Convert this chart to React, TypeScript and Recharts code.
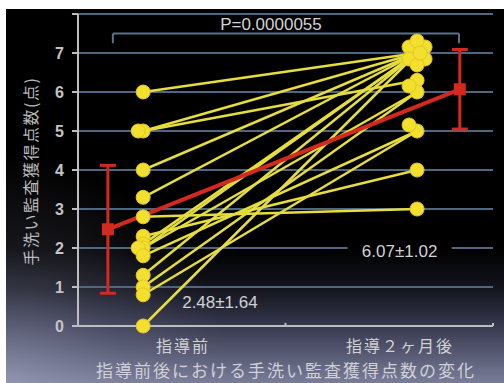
import React from "react";
import {
  ComposedChart,
  Scatter,
  XAxis,
  YAxis,
  CartesianGrid,
  ErrorBar,
  ReferenceLine,
  ReferenceDot,
} from "recharts";

// scores per participant, before guidance and two months after
const categories = ["指導前", "指導２ヶ月後"];
const before = [6, 5, 5, 4, 3.3, 2.8, 2.3, 2.1, 2, 2, 1.8, 1.3, 1, 0.8, 0];
const after = [7, 7, 6.3, 7, 7, 3, 4, 7, 6, 7, 5, 7, 6, 5, 7];
const means = [2.48, 6.07];
const sds = [1.64, 1.02];
const yTicks = [0, 1, 2, 3, 4, 5, 6, 7, 8];
const pLabel = "P=0.0000055";
const yTitle = "手洗い監査獲得点数(点)";
const xTitle = "指導前後における手洗い監査獲得点数の変化";

// horizontal layout on a 0..100 x scale
const X_BEFORE = 15.7;
const X_AFTER = 81.7;
const X_MEAN = [7.2, 92];
const X_CAT = [25.3, 77.6];

const YELLOW = "#f3df2e";
const YELLOW_LINE = "#e6dd3e";
const RED = "#d3291f";
const GRID = "#4d6880";
const AXIS = "#bdbdc2";
const TEXT = "#d2d2d4";
const NUM_FONT = '"Liberation Sans", Arial, sans-serif';
const JP_FONT = '"Noto Sans CJK JP", "Noto Sans", sans-serif';

const LEFT_FAN = [0, -5, 5, -3, 3];
const RIGHT_FAN = [
  [0, 0],
  [-8, -6],
  [8, -6],
  [0, -12],
  [-8, 6],
  [8, 6],
  [0, 12],
  [3, 0],
];

// identical scores are fanned out a little so each marker stays visible
function fan(values: number[], right: boolean) {
  const count: Record<string, number> = {};
  return values.map((v) => {
    const k = count[v] ?? 0;
    count[v] = k + 1;
    if (right) {
      const [dx, dy] = RIGHT_FAN[k % RIGHT_FAN.length];
      return { dx, dy };
    }
    return { dx: LEFT_FAN[k % LEFT_FAN.length], dy: 0 };
  });
}

const leftFan = fan(before, false);
const rightFan = fan(after, true);

const pairs = before.map((b, i) => [
  { x: X_BEFORE, y: b },
  { x: X_AFTER, y: after[i] },
]);

const dots = [
  ...before.map((y, i) => ({ x: X_BEFORE, y, ...leftFan[i] })),
  ...after.map((y, i) => ({ x: X_AFTER, y, ...rightFan[i] })),
];

const meanData = means.map((y, i) => ({ x: X_MEAN[i], y, sd: sds[i] }));

const noShape = () => <g />;

const DotShape = (p: any) => (
  <circle
    cx={p.cx + (p.payload?.dx ?? 0)}
    cy={p.cy + (p.payload?.dy ?? 0)}
    r={7}
    fill={YELLOW}
    stroke="#e2c724"
    strokeWidth={1}
  />
);

const SquareShape = (p: any) => (
  <rect x={p.cx - 6} y={p.cy - 6} width={12} height={12} fill={RED} />
);

const CategoryTick = (p: any) => {
  const idx = X_CAT.indexOf(p.payload.value);
  return (
    <text
      x={p.x}
      y={p.y + 18}
      textAnchor="middle"
      fill={TEXT}
      fontSize={16}
      letterSpacing={2}
      fontFamily={JP_FONT}
    >
      {categories[idx]}
    </text>
  );
};

const YTitle = () => (
  <text
    x={30}
    y={171}
    transform="rotate(-90 30 171)"
    textAnchor="middle"
    dominantBaseline="central"
    fill="#b9b9bb"
    fontSize={16}
    letterSpacing={1.5}
    fontFamily={JP_FONT}
  >
    {yTitle}
  </text>
);

const XTitle = () => (
  <text
    x={286}
    y={377}
    textAnchor="middle"
    fill="#cfd0d8"
    fontSize={17}
    letterSpacing={2}
    fontFamily={JP_FONT}
  >
    {xTitle}
  </text>
);

const statText = (text: string, boxed: boolean) => (p: any) => (
  <g>
    {boxed && <rect x={p.cx - 52} y={p.cy - 12} width={104} height={24} fill="url(#panelFade)" />}
    <text
      x={p.cx}
      y={p.cy}
      textAnchor="middle"
      dominantBaseline="central"
      fill={TEXT}
      fontSize={17}
      fontFamily={NUM_FONT}
    >
      {text}
    </text>
  </g>
);

// dark slide panel: black on top, fading to slate blue at the bottom
const Panel = () => (
  <svg width={504} height={383} style={{ position: "absolute", left: 0, top: 0 }}>
    <defs>
      <linearGradient id="panelFade" gradientUnits="userSpaceOnUse" x1={0} y1={9} x2={0} y2={383}>
        <stop offset="0" stopColor="#000" />
        <stop offset="0.64" stopColor="#000" />
        <stop offset="0.75" stopColor="#14151e" />
        <stop offset="0.83" stopColor="#303246" />
        <stop offset="0.91" stopColor="#51546c" />
        <stop offset="1" stopColor="#7a7d98" />
      </linearGradient>
      <radialGradient id="panelGlow" gradientUnits="userSpaceOnUse" cx={0} cy={383} r={230}>
        <stop offset="0" stopColor="#b4b6d0" stopOpacity={0.45} />
        <stop offset="0.55" stopColor="#9a9cba" stopOpacity={0.16} />
        <stop offset="1" stopColor="#9a9cba" stopOpacity={0} />
      </radialGradient>
    </defs>
    <rect x={6} y={9} width={498} height={374} fill="url(#panelFade)" />
    <rect x={6} y={9} width={498} height={374} fill="url(#panelGlow)" />
  </svg>
);

export default function App() {
  return (
    <div style={{ position: "fixed", left: 0, top: 0, width: 504, height: 383, background: "#fff" }}>
      <Panel />
      <div style={{ position: "absolute", left: 0, top: 0 }}>
        <ComposedChart width={504} height={383} margin={{ top: 14, right: 11, bottom: 0, left: 0 }}>
          <CartesianGrid vertical={false} stroke={GRID} strokeWidth={2} />
          <XAxis
            type="number"
            dataKey="x"
            domain={[0, 100]}
            ticks={X_CAT}
            interval={0}
            height={57}
            stroke={AXIS}
            strokeWidth={2}
            tickLine={false}
            tick={<CategoryTick />}
            label={<XTitle />}
          />
          <YAxis
            type="number"
            dataKey="y"
            domain={[0, 8]}
            ticks={yTicks}
            interval={0}
            width={78}
            stroke={AXIS}
            strokeWidth={2}
            tickSize={6}
            tickMargin={8}
            tickFormatter={(v: number) => (v === 8 ? "" : String(v))}
            tick={{ fill: "#c4c4c6", fontSize: 16, fontWeight: "bold", fontFamily: NUM_FONT }}
            label={<YTitle />}
          />

          {/* significance bracket */}
          <ReferenceLine
            segment={[{ x: 8.4, y: 7.5 }, { x: 91.8, y: 7.5 }]}
            stroke="#5a7187"
            strokeWidth={2}
            ifOverflow="visible"
          />
          <ReferenceLine
            segment={[{ x: 8.4, y: 7.5 }, { x: 8.4, y: 7.25 }]}
            stroke="#5a7187"
            strokeWidth={2}
            ifOverflow="visible"
          />
          <ReferenceLine
            segment={[{ x: 91.8, y: 7.5 }, { x: 91.8, y: 7.25 }]}
            stroke="#5a7187"
            strokeWidth={2}
            ifOverflow="visible"
          />
          <ReferenceLine segment={[{ x: 50, y: 0 }, { x: 50, y: 0.08 }]} stroke={AXIS} strokeWidth={2} />
          <ReferenceLine segment={[{ x: 100, y: 0 }, { x: 100, y: 0.08 }]} stroke={AXIS} strokeWidth={2} />

          {pairs.map((d, i) => (
            <Scatter
              key={i}
              data={d}
              line={{ stroke: YELLOW_LINE, strokeWidth: 2.5 }}
              shape={noShape}
              isAnimationActive={false}
            />
          ))}

          <Scatter
            data={meanData}
            line={{ stroke: RED, strokeWidth: 4 }}
            shape={SquareShape}
            isAnimationActive={false}
          >
            <ErrorBar dataKey="sd" direction="y" width={8} strokeWidth={3} stroke={RED} />
          </Scatter>

          <Scatter data={dots} shape={DotShape} isAnimationActive={false} />

          <ReferenceDot x={46.5} y={7.74} r={0} ifOverflow="visible" shape={statText(pLabel, false)} />
          <ReferenceDot x={34.2} y={0.59} r={0} shape={statText(`${means[0]}±${sds[0]}`, false)} />
          <ReferenceDot x={77.5} y={1.9} r={0} shape={statText(`${means[1]}±${sds[1]}`, true)} />
        </ComposedChart>
      </div>
    </div>
  );
}
